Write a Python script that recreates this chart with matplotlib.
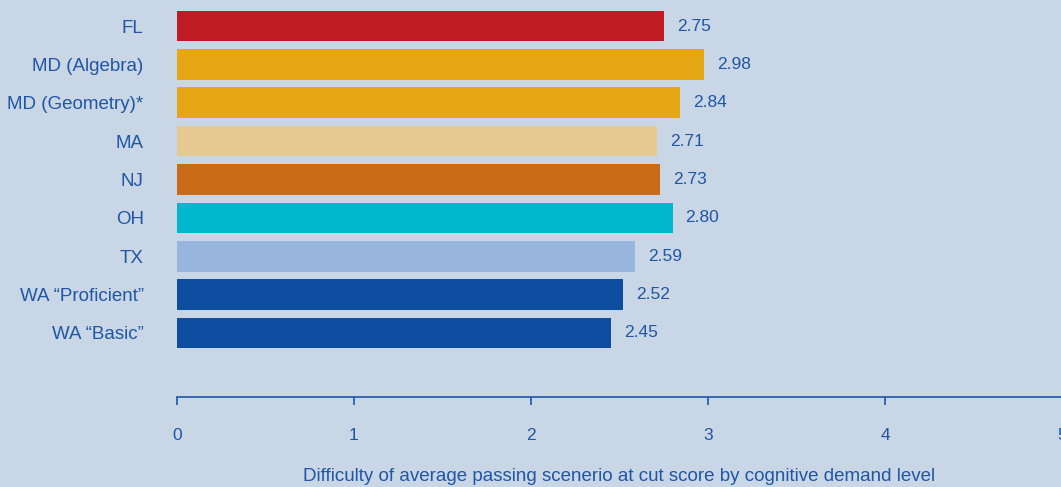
import numpy as np
import matplotlib.pyplot as plt
import matplotlib.ticker as ticker

#DATA
states = ['FL', 'MD (Algebra)', 'MD (Geometry)*', 'MA', 'NJ', 'OH', 'TX',
          'WA \u201cProficient\u201d', 'WA \u201cBasic\u201d']
difficulty = [2.75, 2.98, 2.84, 2.71, 2.73, 2.80, 2.59, 2.52, 2.45]
bar_colors = ['#BE1C22', '#E5A713', '#E5A713', '#E6C990', '#CB6A18',
              '#00B8CE', '#98B5DD', '#0E4EA0', '#0E4EA0']
xticks = [0, 1, 2, 3, 4, 5]

BG = '#C8D6E6'
TXT = '#1F56A5'

plt.rcParams['font.family'] = ['Liberation Sans', 'DejaVu Sans']

#FIGURE
fig = plt.figure(figsize=(10.61, 4.87), dpi=100, facecolor=BG)
ax = fig.add_axes([177 / 1061, 90 / 487, 885 / 1061, 397 / 487])
ax.set_facecolor(BG)

y = np.arange(len(states))
ax.barh(y, difficulty, height=0.8, color=bar_colors)
for yi, v in zip(y, difficulty):
    ax.annotate(f"{v:.2f}", (v, yi), xytext=(13, 0), textcoords='offset pixels',
                va='center', ha='left', color=TXT, fontsize=12.5)

ax.set_xlim(0, 5)
ax.set_ylim(9.668, -0.678)
ax.set_yticks(y)
ax.set_yticklabels(states, fontsize=13.5, color=TXT)
ax.tick_params(axis='y', length=0, pad=24)
ax.set_xticks(xticks)
ax.xaxis.set_major_formatter(ticker.FormatStrFormatter('%d'))
ax.tick_params(axis='x', direction='out', length=6, width=1.2, color=TXT,
               labelcolor=TXT, labelsize=12.5, pad=16)

for s in ['top', 'right', 'left']:
    ax.spines[s].set_visible(False)
ax.spines['bottom'].set_color(TXT)
ax.spines['bottom'].set_linewidth(1.2)

ax.set_xlabel('Difficulty of average passing scenerio at cut score by cognitive demand level',
              fontsize=13.5, color=TXT, labelpad=18)

fig.savefig('out.png', dpi=100, facecolor=BG)
